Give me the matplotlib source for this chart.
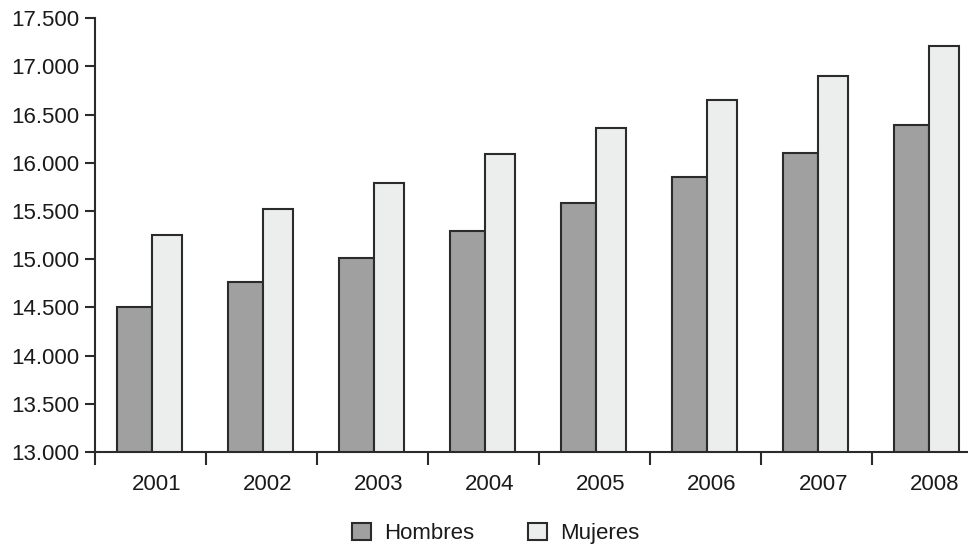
import numpy as np
import matplotlib.pyplot as plt
from matplotlib.ticker import FuncFormatter, FixedLocator
from matplotlib.patches import Patch
from matplotlib import font_manager

years = ['2001', '2002', '2003', '2004', '2005', '2006', '2007', '2008']
hombres = [14500, 14760, 15010, 15290, 15580, 15850, 16100, 16390]
mujeres = [15250, 15520, 15790, 16090, 16360, 16650, 16900, 17210]

names = {f.name for f in font_manager.fontManager.ttflist}
fam = 'Liberation Sans Narrow' if 'Liberation Sans Narrow' in names else 'Liberation Sans'
plt.rcParams['font.family'] = [fam, 'DejaVu Sans']
plt.rcParams['text.color'] = '#1a1a1a'

fig = plt.figure(figsize=(9.68, 5.5), dpi=100)
ax = fig.add_axes([0.098, 0.178, 0.902, 0.789])

x = np.arange(len(years))
w_h = 0.315
w_m = 0.27
ax.bar(x + 0.2, hombres, width=w_h, align='edge',
       color='#a0a0a0', edgecolor='#2b2b2b', linewidth=1.5)
ax.bar(x + 0.2 + w_h, mujeres, width=w_m, align='edge',
       color='#eceeed', edgecolor='#2b2b2b', linewidth=1.5)

ax.set_ylim(13000, 17500)
ax.set_xlim(0, 873 / 111)
ax.set_yticks(np.arange(13000, 17501, 500))
ax.yaxis.set_major_formatter(FuncFormatter(lambda v, p: f'{int(v):,}'.replace(',', '.')))

ax.xaxis.set_major_locator(FixedLocator(x + 0.56))
ax.set_xticklabels(years)
ax.xaxis.set_minor_locator(FixedLocator(np.arange(0, 8)))
ax.tick_params(axis='x', which='major', length=0, pad=16, labelsize=16, labelcolor='#1a1a1a')
ax.tick_params(axis='x', which='minor', length=9, width=1.5, color='#2b2b2b')
ax.tick_params(axis='y', length=7, width=1.5, color='#2b2b2b', labelsize=16, pad=4,
               labelcolor='#1a1a1a')

for s in ['top', 'right']:
    ax.spines[s].set_visible(False)
for s in ['left', 'bottom']:
    ax.spines[s].set_linewidth(1.5)
    ax.spines[s].set_color('#2b2b2b')

handles = [Patch(facecolor='#a0a0a0', edgecolor='#2b2b2b', linewidth=1.5, label='Hombres'),
           Patch(facecolor='#eceeed', edgecolor='#2b2b2b', linewidth=1.5, label='Mujeres')]
fig.legend(handles=handles, loc='center', bbox_to_anchor=(0.512, 0.03), ncol=2,
           frameon=False, fontsize=16, handlelength=0.85, handleheight=0.85,
           columnspacing=2.4, handletextpad=0.6, borderpad=0, borderaxespad=0)

fig.savefig('out.png', dpi=100)
